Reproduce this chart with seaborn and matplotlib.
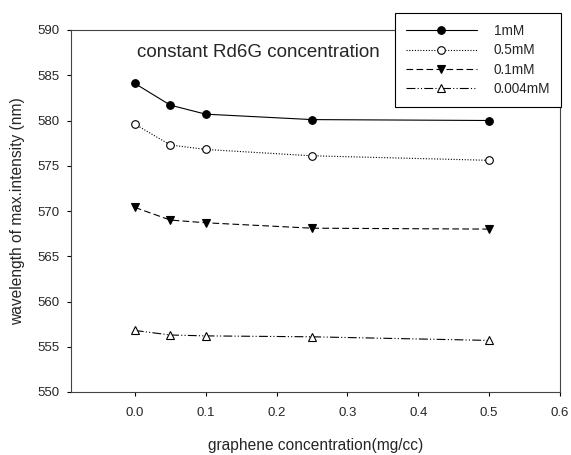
import numpy as np
import pandas as pd
import matplotlib
matplotlib.use("Agg")
import matplotlib.pyplot as plt
import seaborn as sns

# graphene concentration (mg/cc)
graphene = [0.0, 0.05, 0.1, 0.25, 0.5]

# wavelength of max intensity (nm) per Rd6G concentration
wl_1mM = [584.1, 581.7, 580.7, 580.1, 580.0]
wl_05mM = [579.6, 577.3, 576.8, 576.1, 575.6]
wl_01mM = [570.4, 569.0, 568.7, 568.1, 568.0]
wl_0004mM = [556.8, 556.3, 556.2, 556.1, 555.7]

series_labels = ["1mM", "0.5mM", "0.1mM", "0.004mM"]
x_ticks = [0.0, 0.1, 0.2, 0.3, 0.4, 0.5, 0.6]
y_ticks = [550, 555, 560, 565, 570, 575, 580, 585, 590]

sns.set_style("ticks")
plt.rcParams["font.family"] = ["Liberation Sans", "DejaVu Sans"]

fig = plt.figure(figsize=(5.71, 4.55), dpi=100)
ax = fig.add_axes([71 / 571, 1 - 392 / 455, (560 - 71) / 571, (392 - 30) / 455])

styles = [
    dict(marker="o", markerfacecolor="black", linestyle="-"),
    dict(marker="o", markerfacecolor="white", linestyle=(0, (1, 1.5))),
    dict(marker="v", markerfacecolor="black", linestyle=(0, (6, 3))),
    dict(marker="^", markerfacecolor="white", linestyle=(0, (8, 2, 1, 2, 1, 2))),
]

for vals, lab, st in zip([wl_1mM, wl_05mM, wl_01mM, wl_0004mM], series_labels, styles):
    df = pd.DataFrame({"x": graphene, "y": vals})
    sns.lineplot(data=df, x="x", y="y", ax=ax, color="black", linewidth=0.8,
                 markersize=5.5, markeredgecolor="black", markeredgewidth=0.8,
                 label=lab, **st)

ax.set_xlim(-0.09, 0.6)
ax.set_ylim(550, 590)
ax.set_xticks(x_ticks)
ax.set_xticklabels([f"{t:.1f}" for t in x_ticks])
ax.set_yticks(y_ticks)
ax.tick_params(axis="both", labelsize=9.5, length=3, width=0.8, color="black")
ax.tick_params(axis="x", pad=8)
ax.tick_params(axis="y", pad=5)

for sp in ax.spines.values():
    sp.set_visible(True)
    sp.set_linewidth(0.8)
    sp.set_color("#444444")

ax.set_xlabel("graphene concentration(mg/cc)", fontsize=11.2)
ax.set_ylabel("wavelength of max.intensity (nm)", fontsize=11.2)
ax.xaxis.set_label_coords(0.5, -0.128)
ax.yaxis.set_label_coords(-0.094, 0.5)

ax.text(0.135, 0.939, "constant Rd6G concentration", transform=ax.transAxes,
        fontsize=13.5, va="center", ha="left")

leg = ax.legend(loc="upper right", bbox_to_anchor=(561 / 571, 1 - 13 / 455),
                bbox_transform=fig.transFigure, fontsize=9.8, frameon=True,
                fancybox=False, edgecolor="black", framealpha=1,
                handlelength=5.2, handletextpad=1.25, labelspacing=0.4,
                borderpad=0.8, borderaxespad=0)
leg.get_frame().set_linewidth(0.8)

fig.savefig("out.png", dpi=100)
